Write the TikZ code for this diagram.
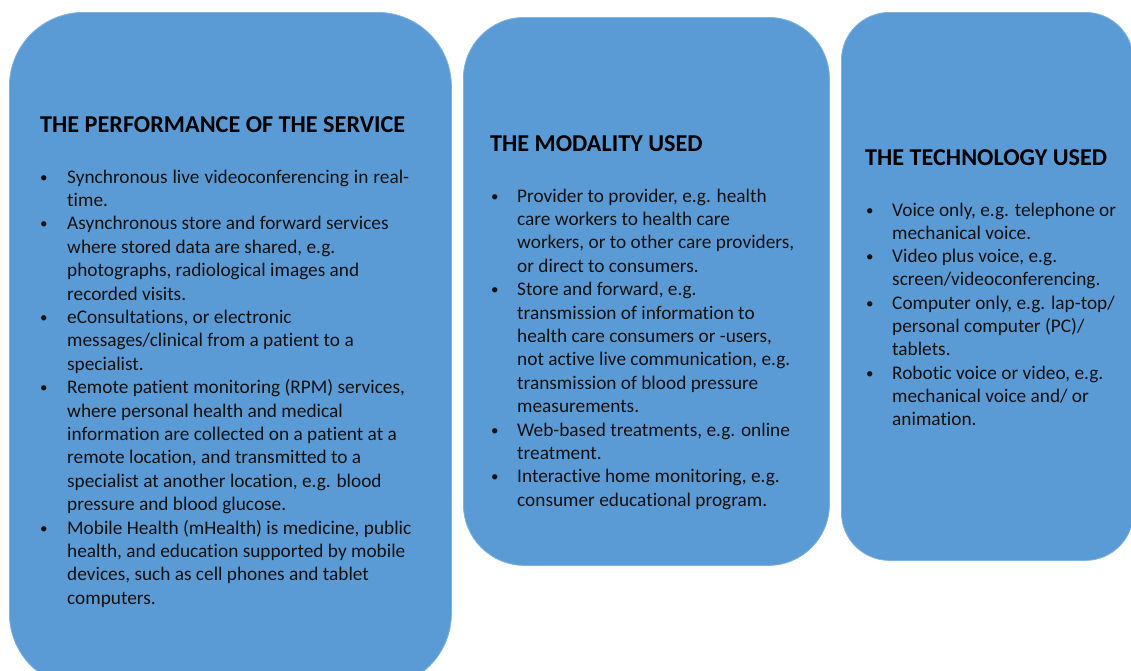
\documentclass[tikz,border=0pt]{standalone}
\usepackage{fontspec}
\setmainfont[Ligatures=NoCommon]{Carlito}
\definecolor{boxblue}{HTML}{5B9BD5}
\definecolor{boxedge}{HTML}{7FB2E0}
\definecolor{ink}{HTML}{111111}
\begin{document}
\begin{tikzpicture}[x=1pt,y=-1pt,
  panel/.style={draw=boxedge, line width=0.8pt, fill=boxblue, rounded corners=#1, inner sep=0pt, anchor=north west},
  ttl/.style={anchor=base west, inner sep=0pt, font=\fontsize{24.2}{28}\selectfont\bfseries, text=black},
  txt/.style={anchor=base west, inner sep=0pt, font=\fontsize{19.3}{23}\selectfont, text=ink},
  bul/.style={anchor=base west, inner sep=0pt, font=\fontsize{15}{18}\selectfont, text=ink}]
\useasboundingbox (0,0) rectangle (1131,670);
\clip (0,0) rectangle (1131,670);
% panels
\node[panel=74pt, minimum width=442pt, minimum height=675pt] (p1) at (9,12) {};
\node[panel=61pt, minimum width=366pt, minimum height=548pt] (p2) at (463,17) {};
\node[panel=48pt, minimum width=292pt, minimum height=548pt] (p3) at (841,12) {};
% titles
\node[ttl] (t1) at (40,132) {THE PERFORMANCE OF THE SERVICE};
\node[ttl] (t2) at (490,151) {THE MODALITY USED};
\node[ttl] (t3) at (865,165) {THE TECHNOLOGY USED};
% box 1 text
\foreach [count=\k from 0] \t in {
  {\makebox[342pt][s]{Synchronous live videoconferencing in real-}},
  {time.},
  {Asynchronous store and forward services},
  {where stored data are shared, e.g.},
  {photographs, radiological images and},
  {recorded visits.},
  {eConsultations, or electronic},
  {messages/clinical from a patient to a},
  {specialist.},
  {Remote patient monitoring (RPM) services,},
  {where personal health and medical},
  {information are collected on a patient at a},
  {remote location, and transmitted to a},
  {specialist at another location, e.g. blood},
  {pressure and blood glucose.},
  {Mobile Health (mHealth) is medicine, public},
  {health, and education supported by mobile},
  {devices, such as cell phones and tablet},
  {computers.}}
  {\node[txt] (a\k) at (67,{183+23.4*\k}) {\t};}
\foreach \k in {0,2,6,9,15}
  {\node[bul] (ab\k) at (40,{182+23.4*\k}) {•};}
% box 2 text
\foreach [count=\k from 0] \t in {
  {Provider to provider, e.g. health},
  {care workers to health care},
  {workers, or to other care providers,},
  {or direct to consumers.},
  {Store and forward, e.g.},
  {transmission of information to},
  {health care consumers or -users,},
  {not active live communication, e.g.},
  {transmission of blood pressure},
  {measurements.},
  {Web-based treatments, e.g. online},
  {treatment.},
  {Interactive home monitoring, e.g.},
  {consumer educational program.}}
  {\node[txt] (b\k) at (517,{202+23.4*\k}) {\t};}
\foreach \k in {0,4,10,12}
  {\node[bul] (bb\k) at (491,{201+23.4*\k}) {•};}
% box 3 text
\foreach [count=\k from 0] \t in {
  {Voice only, e.g. telephone or},
  {mechanical voice.},
  {Video plus voice, e.g.},
  {screen/videoconferencing.},
  {Computer only, e.g. lap-top/},
  {personal computer (PC)/},
  {tablets.},
  {Robotic voice or video, e.g.},
  {mechanical voice and/ or},
  {animation.}}
  {\node[txt] (c\k) at (892,{216+23.3*\k}) {\t};}
\foreach \k in {0,2,4,7}
  {\node[bul] (cb\k) at (866,{215+23.3*\k}) {•};}
\end{tikzpicture}
\end{document}
